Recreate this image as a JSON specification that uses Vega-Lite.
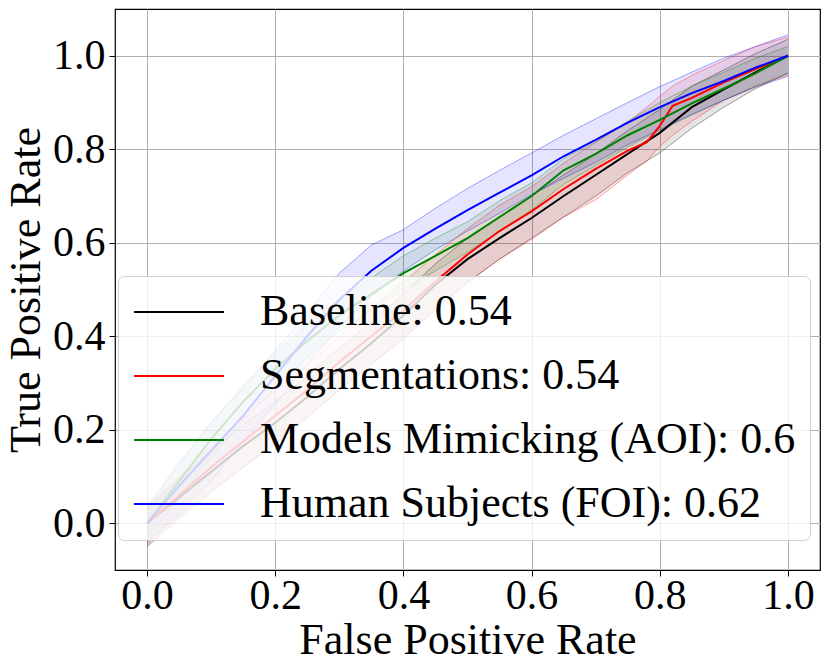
{
  "$schema": "https://vega.github.io/schema/vega-lite/v6.json",
  "width": 705,
  "height": 561,
  "autosize": {"type": "none"},
  "padding": {"left": 115, "top": 9, "right": 10, "bottom": 102},
  "background": "white",
  "datasets": {
    "roc": [
      {"model": "Baseline: 0.54", "fpr": 0.0, "tpr": 0.0, "lo": -0.05, "hi": 0.03},
      {"model": "Baseline: 0.54", "fpr": 0.05, "tpr": 0.055, "lo": 0.01, "hi": 0.095},
      {"model": "Baseline: 0.54", "fpr": 0.1, "tpr": 0.11, "lo": 0.065, "hi": 0.155},
      {"model": "Baseline: 0.54", "fpr": 0.15, "tpr": 0.165, "lo": 0.12, "hi": 0.21},
      {"model": "Baseline: 0.54", "fpr": 0.2, "tpr": 0.215, "lo": 0.17, "hi": 0.26},
      {"model": "Baseline: 0.54", "fpr": 0.25, "tpr": 0.27, "lo": 0.225, "hi": 0.315},
      {"model": "Baseline: 0.54", "fpr": 0.3, "tpr": 0.33, "lo": 0.285, "hi": 0.375},
      {"model": "Baseline: 0.54", "fpr": 0.35, "tpr": 0.385, "lo": 0.34, "hi": 0.43},
      {"model": "Baseline: 0.54", "fpr": 0.4, "tpr": 0.445, "lo": 0.395, "hi": 0.49},
      {"model": "Baseline: 0.54", "fpr": 0.45, "tpr": 0.51, "lo": 0.46, "hi": 0.555},
      {"model": "Baseline: 0.54", "fpr": 0.5, "tpr": 0.565, "lo": 0.515, "hi": 0.61},
      {"model": "Baseline: 0.54", "fpr": 0.55, "tpr": 0.61, "lo": 0.565, "hi": 0.655},
      {"model": "Baseline: 0.54", "fpr": 0.6, "tpr": 0.653, "lo": 0.61, "hi": 0.7},
      {"model": "Baseline: 0.54", "fpr": 0.65, "tpr": 0.7, "lo": 0.655, "hi": 0.745},
      {"model": "Baseline: 0.54", "fpr": 0.7, "tpr": 0.745, "lo": 0.7, "hi": 0.79},
      {"model": "Baseline: 0.54", "fpr": 0.75, "tpr": 0.79, "lo": 0.75, "hi": 0.84},
      {"model": "Baseline: 0.54", "fpr": 0.8, "tpr": 0.835, "lo": 0.792, "hi": 0.885},
      {"model": "Baseline: 0.54", "fpr": 0.85, "tpr": 0.89, "lo": 0.845, "hi": 0.935},
      {"model": "Baseline: 0.54", "fpr": 0.9, "tpr": 0.928, "lo": 0.89, "hi": 0.97},
      {"model": "Baseline: 0.54", "fpr": 0.95, "tpr": 0.965, "lo": 0.93, "hi": 1.005},
      {"model": "Baseline: 0.54", "fpr": 1.0, "tpr": 1.0, "lo": 0.963, "hi": 1.035},

      {"model": "Segmentations: 0.54", "fpr": 0.0, "tpr": 0.0, "lo": -0.045, "hi": 0.035},
      {"model": "Segmentations: 0.54", "fpr": 0.05, "tpr": 0.06, "lo": 0.015, "hi": 0.1},
      {"model": "Segmentations: 0.54", "fpr": 0.1, "tpr": 0.12, "lo": 0.07, "hi": 0.165},
      {"model": "Segmentations: 0.54", "fpr": 0.15, "tpr": 0.175, "lo": 0.12, "hi": 0.225},
      {"model": "Segmentations: 0.54", "fpr": 0.2, "tpr": 0.23, "lo": 0.175, "hi": 0.285},
      {"model": "Segmentations: 0.54", "fpr": 0.25, "tpr": 0.285, "lo": 0.23, "hi": 0.34},
      {"model": "Segmentations: 0.54", "fpr": 0.3, "tpr": 0.345, "lo": 0.285, "hi": 0.4},
      {"model": "Segmentations: 0.54", "fpr": 0.35, "tpr": 0.4, "lo": 0.34, "hi": 0.46},
      {"model": "Segmentations: 0.54", "fpr": 0.4, "tpr": 0.455, "lo": 0.395, "hi": 0.515},
      {"model": "Segmentations: 0.54", "fpr": 0.45, "tpr": 0.517, "lo": 0.455, "hi": 0.575},
      {"model": "Segmentations: 0.54", "fpr": 0.5, "tpr": 0.575, "lo": 0.515, "hi": 0.63},
      {"model": "Segmentations: 0.54", "fpr": 0.55, "tpr": 0.625, "lo": 0.565, "hi": 0.68},
      {"model": "Segmentations: 0.54", "fpr": 0.6, "tpr": 0.667, "lo": 0.607, "hi": 0.72},
      {"model": "Segmentations: 0.54", "fpr": 0.65, "tpr": 0.715, "lo": 0.655, "hi": 0.77},
      {"model": "Segmentations: 0.54", "fpr": 0.7, "tpr": 0.758, "lo": 0.692, "hi": 0.815},
      {"model": "Segmentations: 0.54", "fpr": 0.75, "tpr": 0.797, "lo": 0.745, "hi": 0.858},
      {"model": "Segmentations: 0.54", "fpr": 0.78, "tpr": 0.815, "lo": 0.775, "hi": 0.89},
      {"model": "Segmentations: 0.54", "fpr": 0.8, "tpr": 0.85, "lo": 0.806, "hi": 0.913},
      {"model": "Segmentations: 0.54", "fpr": 0.82, "tpr": 0.893, "lo": 0.83, "hi": 0.935},
      {"model": "Segmentations: 0.54", "fpr": 0.85, "tpr": 0.91, "lo": 0.86, "hi": 0.958},
      {"model": "Segmentations: 0.54", "fpr": 0.9, "tpr": 0.943, "lo": 0.905, "hi": 0.99},
      {"model": "Segmentations: 0.54", "fpr": 0.95, "tpr": 0.972, "lo": 0.935, "hi": 1.02},
      {"model": "Segmentations: 0.54", "fpr": 1.0, "tpr": 1.0, "lo": 0.959, "hi": 1.04},

      {"model": "Models Mimicking (AOI): 0.6", "fpr": 0.0, "tpr": 0.0, "lo": -0.03, "hi": 0.03},
      {"model": "Models Mimicking (AOI): 0.6", "fpr": 0.05, "tpr": 0.09, "lo": 0.05, "hi": 0.125},
      {"model": "Models Mimicking (AOI): 0.6", "fpr": 0.1, "tpr": 0.18, "lo": 0.14, "hi": 0.215},
      {"model": "Models Mimicking (AOI): 0.6", "fpr": 0.15, "tpr": 0.26, "lo": 0.22, "hi": 0.295},
      {"model": "Models Mimicking (AOI): 0.6", "fpr": 0.2, "tpr": 0.33, "lo": 0.29, "hi": 0.365},
      {"model": "Models Mimicking (AOI): 0.6", "fpr": 0.25, "tpr": 0.39, "lo": 0.355, "hi": 0.425},
      {"model": "Models Mimicking (AOI): 0.6", "fpr": 0.3, "tpr": 0.445, "lo": 0.41, "hi": 0.48},
      {"model": "Models Mimicking (AOI): 0.6", "fpr": 0.35, "tpr": 0.49, "lo": 0.455, "hi": 0.525},
      {"model": "Models Mimicking (AOI): 0.6", "fpr": 0.4, "tpr": 0.535, "lo": 0.5, "hi": 0.572},
      {"model": "Models Mimicking (AOI): 0.6", "fpr": 0.45, "tpr": 0.572, "lo": 0.54, "hi": 0.61},
      {"model": "Models Mimicking (AOI): 0.6", "fpr": 0.5, "tpr": 0.61, "lo": 0.58, "hi": 0.645},
      {"model": "Models Mimicking (AOI): 0.6", "fpr": 0.55, "tpr": 0.655, "lo": 0.625, "hi": 0.69},
      {"model": "Models Mimicking (AOI): 0.6", "fpr": 0.6, "tpr": 0.7, "lo": 0.67, "hi": 0.728},
      {"model": "Models Mimicking (AOI): 0.6", "fpr": 0.65, "tpr": 0.755, "lo": 0.725, "hi": 0.78},
      {"model": "Models Mimicking (AOI): 0.6", "fpr": 0.7, "tpr": 0.79, "lo": 0.765, "hi": 0.815},
      {"model": "Models Mimicking (AOI): 0.6", "fpr": 0.75, "tpr": 0.83, "lo": 0.805, "hi": 0.86},
      {"model": "Models Mimicking (AOI): 0.6", "fpr": 0.8, "tpr": 0.863, "lo": 0.84, "hi": 0.9},
      {"model": "Models Mimicking (AOI): 0.6", "fpr": 0.85, "tpr": 0.898, "lo": 0.873, "hi": 0.935},
      {"model": "Models Mimicking (AOI): 0.6", "fpr": 0.9, "tpr": 0.93, "lo": 0.905, "hi": 0.965},
      {"model": "Models Mimicking (AOI): 0.6", "fpr": 0.95, "tpr": 0.963, "lo": 0.935, "hi": 0.995},
      {"model": "Models Mimicking (AOI): 0.6", "fpr": 1.0, "tpr": 1.0, "lo": 0.963, "hi": 1.02},

      {"model": "Human Subjects (FOI): 0.62", "fpr": 0.0, "tpr": 0.0, "lo": -0.04, "hi": 0.035},
      {"model": "Human Subjects (FOI): 0.62", "fpr": 0.05, "tpr": 0.08, "lo": 0.02, "hi": 0.13},
      {"model": "Human Subjects (FOI): 0.62", "fpr": 0.1, "tpr": 0.155, "lo": 0.09, "hi": 0.215},
      {"model": "Human Subjects (FOI): 0.62", "fpr": 0.15, "tpr": 0.23, "lo": 0.175, "hi": 0.29},
      {"model": "Human Subjects (FOI): 0.62", "fpr": 0.2, "tpr": 0.315, "lo": 0.255, "hi": 0.37},
      {"model": "Human Subjects (FOI): 0.62", "fpr": 0.25, "tpr": 0.4, "lo": 0.34, "hi": 0.45},
      {"model": "Human Subjects (FOI): 0.62", "fpr": 0.3, "tpr": 0.478, "lo": 0.42, "hi": 0.535},
      {"model": "Human Subjects (FOI): 0.62", "fpr": 0.35, "tpr": 0.54, "lo": 0.485, "hi": 0.595},
      {"model": "Human Subjects (FOI): 0.62", "fpr": 0.4, "tpr": 0.589, "lo": 0.54, "hi": 0.628},
      {"model": "Human Subjects (FOI): 0.62", "fpr": 0.45, "tpr": 0.63, "lo": 0.585, "hi": 0.674},
      {"model": "Human Subjects (FOI): 0.62", "fpr": 0.5, "tpr": 0.67, "lo": 0.625, "hi": 0.716},
      {"model": "Human Subjects (FOI): 0.62", "fpr": 0.55, "tpr": 0.707, "lo": 0.663, "hi": 0.755},
      {"model": "Human Subjects (FOI): 0.62", "fpr": 0.6, "tpr": 0.744, "lo": 0.703, "hi": 0.792},
      {"model": "Human Subjects (FOI): 0.62", "fpr": 0.65, "tpr": 0.785, "lo": 0.738, "hi": 0.83},
      {"model": "Human Subjects (FOI): 0.62", "fpr": 0.7, "tpr": 0.82, "lo": 0.772, "hi": 0.865},
      {"model": "Human Subjects (FOI): 0.62", "fpr": 0.75, "tpr": 0.857, "lo": 0.81, "hi": 0.9},
      {"model": "Human Subjects (FOI): 0.62", "fpr": 0.8, "tpr": 0.89, "lo": 0.842, "hi": 0.934},
      {"model": "Human Subjects (FOI): 0.62", "fpr": 0.85, "tpr": 0.92, "lo": 0.875, "hi": 0.965},
      {"model": "Human Subjects (FOI): 0.62", "fpr": 0.9, "tpr": 0.946, "lo": 0.905, "hi": 0.995},
      {"model": "Human Subjects (FOI): 0.62", "fpr": 0.95, "tpr": 0.975, "lo": 0.933, "hi": 1.02},
      {"model": "Human Subjects (FOI): 0.62", "fpr": 1.0, "tpr": 1.0, "lo": 0.956, "hi": 1.045}
    ]
  },
  "data": {"name": "roc"},
  "encoding": {
    "x": {
      "field": "fpr",
      "type": "quantitative",
      "title": "False Positive Rate",
      "scale": {"domain": [-0.05, 1.05], "nice": false, "zero": false},
      "axis": {"values": [0, 0.2, 0.4, 0.6, 0.8, 1.0], "format": ".1f"}
    }
  },
  "layer": [
    {
      "mark": {"type": "area", "fillOpacity": 0.1, "interpolate": "linear"},
      "encoding": {
        "y": {"field": "lo", "type": "quantitative"},
        "y2": {"field": "hi"},
        "fill": {
          "field": "model",
          "type": "nominal",
          "scale": {
            "domain": ["Baseline: 0.54", "Segmentations: 0.54", "Models Mimicking (AOI): 0.6", "Human Subjects (FOI): 0.62"],
            "range": ["black", "red", "green", "blue"]
          }
        }
      }
    },
    {
      "mark": {"type": "line", "strokeWidth": 1, "strokeOpacity": 0.35},
      "encoding": {
        "y": {"field": "lo", "type": "quantitative"},
        "stroke": {"field": "model", "type": "nominal"}
      }
    },
    {
      "mark": {"type": "line", "strokeWidth": 1, "strokeOpacity": 0.35},
      "encoding": {
        "y": {"field": "hi", "type": "quantitative"},
        "stroke": {"field": "model", "type": "nominal"}
      }
    },
    {
      "mark": {"type": "line", "strokeWidth": 2},
      "encoding": {
        "y": {
          "field": "tpr",
          "type": "quantitative",
          "title": "True Positive Rate",
          "scale": {"domain": [-0.1, 1.1], "nice": false, "zero": false},
          "axis": {"values": [0, 0.2, 0.4, 0.6, 0.8, 1.0], "format": ".1f"}
        },
        "stroke": {
          "field": "model",
          "type": "nominal",
          "title": null,
          "scale": {
            "domain": ["Baseline: 0.54", "Segmentations: 0.54", "Models Mimicking (AOI): 0.6", "Human Subjects (FOI): 0.62"],
            "range": ["black", "red", "green", "blue"]
          },
          "legend": {
            "orient": "none",
            "legendX": 3,
            "legendY": 267,
            "symbolType": "M-2,0H7",
            "symbolSize": 400,
            "symbolStrokeWidth": 2,
            "symbolOpacity": 1,
            "symbolFillColor": "transparent",
            "labelOffset": 84,
            "rowPadding": 20,
            "padding": 14,
            "fillColor": "rgba(255,255,255,0.8)",
            "strokeColor": "#d0d0d0",
            "cornerRadius": 6,
            "encode": {
              "symbols": {
                "update": {
                  "opacity": {"value": 1},
                  "strokeOpacity": {"value": 1},
                  "fillOpacity": {"value": 0}
                }
              }
            }
          }
        }
      }
    }
  ],
  "config": {
    "font": "Liberation Serif",
    "view": {"stroke": "black", "strokeWidth": 1.2},
    "axis": {
      "labelFontSize": 42,
      "labelColor": "black",
      "titleFontSize": 44,
      "titleFontWeight": "normal",
      "titleColor": "black",
      "tickColor": "black",
      "tickSize": 6,
      "domain": false,
      "grid": true,
      "gridColor": "#b0b0b0",
      "gridWidth": 1
    },
    "axisX": {"labelPadding": -1, "titlePadding": 2},
    "axisY": {"labelPadding": 4, "titlePadding": 4},
    "legend": {
      "labelFontSize": 44,
      "labelColor": "black",
      "labelLimit": 700
    }
  }
}
